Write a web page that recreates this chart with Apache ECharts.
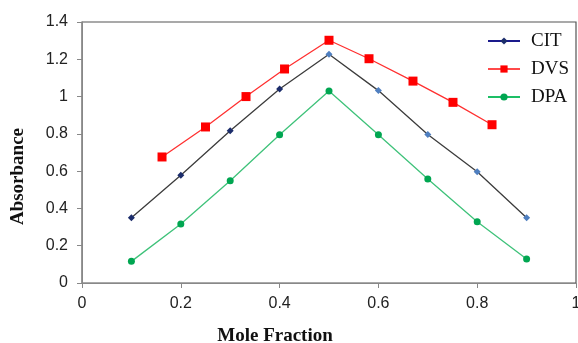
<!DOCTYPE html>
<html><head><meta charset="utf-8">
<script src="https://cdn.jsdelivr.net/npm/echarts@6/dist/echarts.min.js"></script>
<style>html,body{margin:0;padding:0;background:#fff}#c{width:578px;height:343px}</style>
</head><body><div id="c"></div>
<script>
var citX = [0.1, 0.2, 0.3, 0.4, 0.5, 0.6, 0.7, 0.8, 0.9];
var citY = [0.35, 0.578, 0.817, 1.041, 1.227, 1.032, 0.797, 0.597, 0.35];
var dvsX = [0.162, 0.25, 0.332, 0.41, 0.5, 0.581, 0.67, 0.751, 0.83];
var dvsY = [0.676, 0.837, 1.0, 1.148, 1.302, 1.203, 1.083, 0.969, 0.849];
var dpaX = [0.1, 0.2, 0.3, 0.4, 0.5, 0.6, 0.7, 0.8, 0.9];
var dpaY = [0.116, 0.316, 0.549, 0.795, 1.03, 0.795, 0.558, 0.329, 0.129];
var seriesNames = ['CIT', 'DVS', 'DPA'];

function pairs(xs, ys) { return xs.map(function (x, i) { return [x, ys[i]]; }); }
var citData = pairs(citX, citY).map(function (p) {
  return { value: p, itemStyle: { color: p[0] < 0.5 ? '#1c2d6b' : '#4f7fc0' } };
});
var legendLine = { CIT: '#1a1a8c', DVS: '#ff4a4a', DPA: '#1dbf66' };

var chart = echarts.init(document.getElementById('c'));
chart.setOption({
  animation: false,
  grid: { left: 82, right: 2, top: 22, bottom: 60, show: true, borderColor: '#555', borderWidth: 1.2,
    containLabel: false, outerBoundsMode: 'none' },
  legend: {
    orient: 'vertical', left: 482, top: 26, itemWidth: 32, itemHeight: 9, itemGap: 8,
    textStyle: { fontFamily: 'Liberation Serif', fontSize: 19, lineHeight: 20, color: '#111', padding: [0, 0, 0, 6] },
    data: seriesNames.map(function (n) { return { name: n, lineStyle: { color: legendLine[n] } }; })
  },
  xAxis: {
    type: 'value', min: 0, max: 1, interval: 0.2,
    name: 'Mole Fraction', nameLocation: 'middle', nameGap: 44,
    nameTextStyle: { fontFamily: 'Liberation Serif', fontWeight: 'bold', fontSize: 19, color: '#111', padding: [0, 108, 0, 0] },
    axisLine: { show: true, lineStyle: { color: '#888' } },
    axisTick: { show: true, length: 5, lineStyle: { color: '#888' } },
    axisLabel: { fontFamily: 'Liberation Sans', fontSize: 16, color: '#222', margin: 13,
      formatter: function (v) { return +v.toFixed(1) + ''; } },
    splitLine: { show: false }
  },
  yAxis: {
    type: 'value', min: 0, max: 1.4, interval: 0.2,
    name: 'Absorbance', nameLocation: 'middle', nameGap: 54, nameRotate: 90,
    nameTextStyle: { fontFamily: 'Liberation Serif', fontWeight: 'bold', fontSize: 19, color: '#111', padding: [0, 48, 0, 0] },
    axisLine: { show: true, lineStyle: { color: '#888' } },
    axisTick: { show: true, length: 5, lineStyle: { color: '#888' } },
    axisLabel: { fontFamily: 'Liberation Sans', fontSize: 16, color: '#222', margin: 14,
      formatter: function (v) { return +v.toFixed(1) + ''; } },
    splitLine: { show: false }
  },
  series: [
    { name: 'CIT', type: 'line', data: citData, symbol: 'diamond', symbolSize: 7,
      color: '#1c2d6b', lineStyle: { color: '#3c3c3c', width: 1.3 } },
    { name: 'DVS', type: 'line', data: pairs(dvsX, dvsY), symbol: 'rect', symbolSize: 9,
      color: '#ff0000', lineStyle: { color: '#ff3030', width: 1.3 } },
    { name: 'DPA', type: 'line', data: pairs(dpaX, dpaY), symbol: 'circle', symbolSize: 7,
      color: '#00a651', lineStyle: { color: '#3fc27a', width: 1.3 } }
  ]
});
</script></body></html>
